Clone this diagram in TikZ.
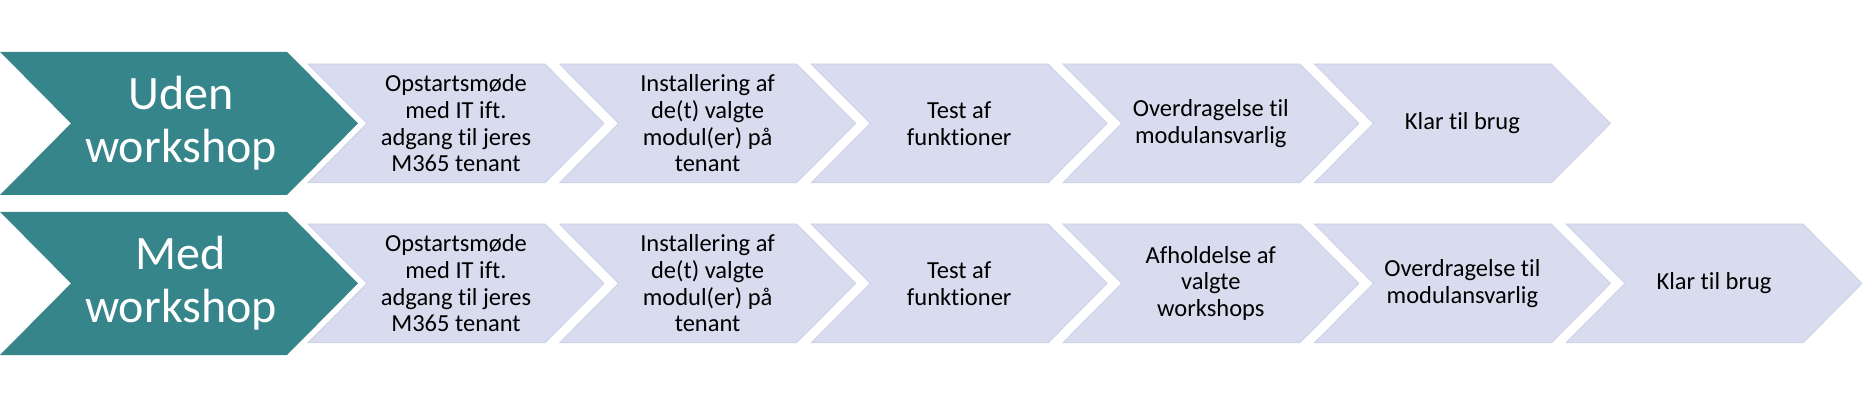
\documentclass[tikz,border=0pt]{standalone}
\usepackage{fontspec}
\setmainfont{Carlito}[Ligatures={NoCommon,NoDiscretionary,NoContextual}]
\definecolor{tealfill}{RGB}{54,133,138}
\definecolor{lavfill}{RGB}{217,220,238}
\definecolor{lavedge}{RGB}{204,208,231}
\newcommand\lightchev[2]{%
  \path[lightshape] (#1,#2-59.4) -- ++(237,0) -- ++(59,59.4) -- ++(-59,59.4) -- ++(-237,0) -- ++(59,-59.4) -- cycle;}
\newcommand\tealchev[1]{%
  \path[tealshape] (0,#1-71.6) -- (287,#1-71.6) -- (358,#1) -- (287,#1+71.6) -- (0,#1+71.6) -- (71,#1) -- cycle;}
\tikzset{
  lightshape/.style={fill=lavfill, draw=lavedge, line width=0.8pt, line join=miter},
  tealshape/.style={fill=tealfill},
  steptext/.style={align=center, text=black, inner sep=0pt, font=\fontsize{24.5}{26.6}\selectfont},
  headtext/.style={align=center, text=white, inner sep=0pt, font=\fontsize{48}{53}\selectfont},
}
\begin{document}
\begin{tikzpicture}[x=1pt,y=-1pt]
\useasboundingbox (0,0) rectangle (1863,406);
% row 1
\tealchev{123.4}
\foreach \i in {0,...,4} {\lightchev{308+251.6*\i}{123.4}}
\node[headtext] (h1) at (181,123.4) {Uden\\workshop};
\node[steptext] (a1) at (456,123.4) {Opstartsmøde\\med IT ift.\\adgang til jeres\\M365 tenant};
\node[steptext] (a2) at (707.6,123.4) {Installering af\\de(t) valgte\\modul(er) på\\tenant};
\node[steptext] (a3) at (959.2,123.4) {Test af\\funktioner};
\node[steptext] (a4) at (1210.8,123.4) {Overdragelse til\\modulansvarlig};
\node[steptext] (a5) at (1462.4,123.4) {Klar til brug};
% row 2
\tealchev{283.4}
\foreach \i in {0,...,5} {\lightchev{308+251.6*\i}{283.4}}
\node[headtext] (h2) at (181,283.4) {Med\\workshop};
\node[steptext] (b1) at (456,283.4) {Opstartsmøde\\med IT ift.\\adgang til jeres\\M365 tenant};
\node[steptext] (b2) at (707.6,283.4) {Installering af\\de(t) valgte\\modul(er) på\\tenant};
\node[steptext] (b3) at (959.2,283.4) {Test af\\funktioner};
\node[steptext] (b4) at (1210.8,283.4) {Afholdelse af\\valgte\\workshops};
\node[steptext] (b5) at (1462.4,283.4) {Overdragelse til\\modulansvarlig};
\node[steptext] (b6) at (1714,283.4) {Klar til brug};
\end{tikzpicture}
\end{document}
